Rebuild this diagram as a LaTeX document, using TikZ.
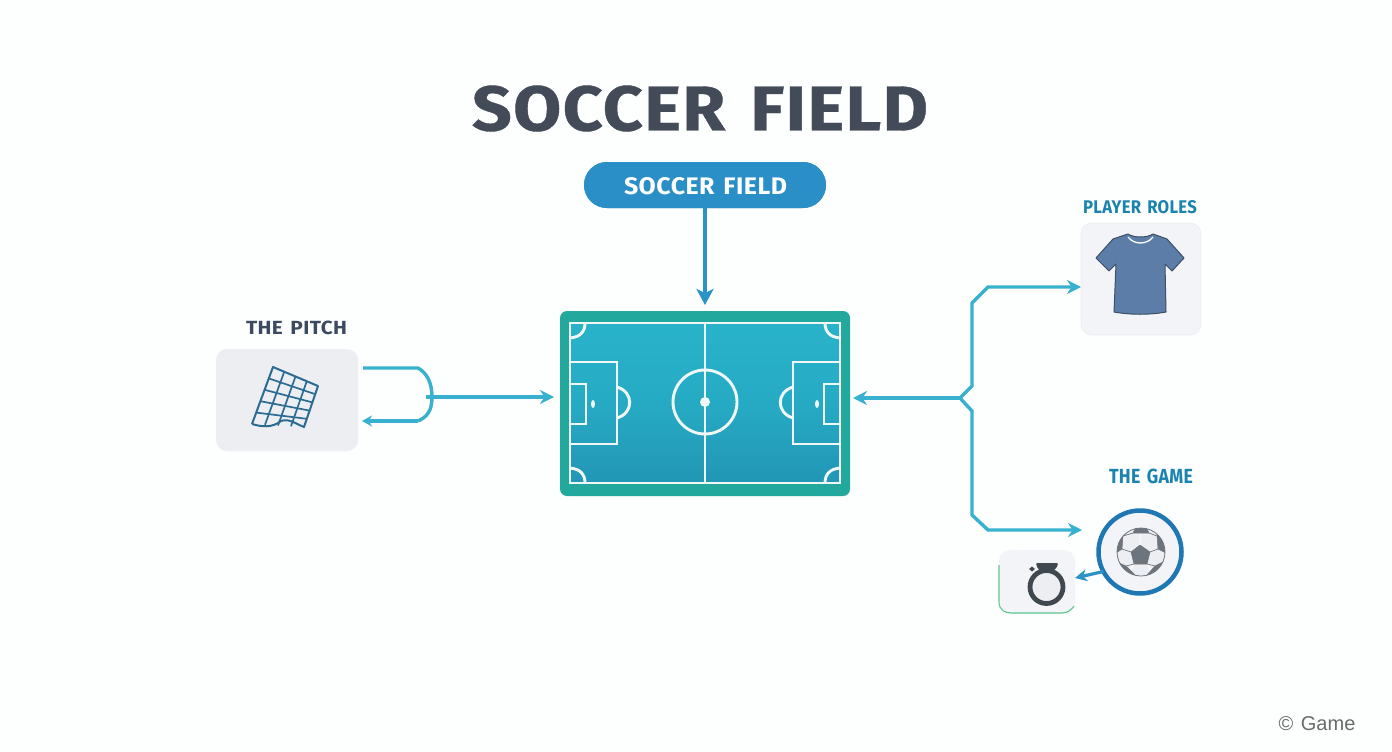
\documentclass[tikz,border=0pt]{standalone}
\usepackage{fontspec}
\setmainfont{Fira Sans}
\newfontfamily\labelfont{Fira Sans}[UprightFont=* Bold,LetterSpace=2,WordSpace=1.4]
\newfontfamily\titlefont{Fira Sans}[UprightFont=* Bold,LetterSpace=2,WordSpace=1.4,FakeBold=0.6]
\newfontfamily\creditfont{Liberation Sans}
\usetikzlibrary{arrows.meta,calc}
\definecolor{bgc}{HTML}{FDFEFE}
\definecolor{titlec}{HTML}{434B58}
\definecolor{pillc}{HTML}{2A8FC6}
\definecolor{linkc}{HTML}{38B1CF}
\definecolor{linkd}{HTML}{2A93C8}
\definecolor{cardc}{HTML}{ECEEF2}
\definecolor{cardl}{HTML}{F3F4F7}
\definecolor{fieldb}{HTML}{22A89C}
\definecolor{fieldt}{HTML}{28B3CA}
\definecolor{fieldm}{HTML}{2296B6}
\definecolor{linec}{HTML}{F1F7F5}
\definecolor{labb}{HTML}{1B84AE}
\definecolor{labd}{HTML}{3C4A60}
\definecolor{shirtc}{HTML}{5B7DA8}
\definecolor{shirtd}{HTML}{3D4F66}
\definecolor{gridc}{HTML}{2B6C94}
\definecolor{ringc}{HTML}{3F474F}
\definecolor{ballr}{HTML}{1F78B4}
\definecolor{patch}{HTML}{6D747C}
\definecolor{greenl}{HTML}{5CC98F}
\newcommand{\fitw}[3]{\resizebox{#1pt}{#2pt}{\labelfont #3}}
\tikzset{
  x=1pt,y=-1pt,
  lbl/.style={inner sep=0pt,outer sep=0pt,anchor=center},
  card/.style={rounded corners=11pt,fill=cardc,draw=none,inner sep=0pt,outer sep=0pt},
  link/.style={draw=linkc,line width=3.4pt,-{Stealth[length=14pt,width=14pt]}},
  linknt/.style={draw=linkc,line width=3.4pt},
  pline/.style={draw=linec,line width=2.9pt},
  gridl/.style={draw=gridc,line width=2pt,line join=round},
  patchf/.style={fill=patch,draw=patch,line width=.5pt,line join=round}
}
\begin{document}
\begin{tikzpicture}
\useasboundingbox (0,0) rectangle (1392,752);
\fill[bgc] (0,0) rectangle (1392,752);

\node[lbl,text=titlec] (title) at (700,108.5) {\resizebox{456pt}{45pt}{\titlefont SOCCER FIELD}};

\node[lbl,fill=pillc,rounded corners=23pt,minimum width=242pt,minimum height=46pt] (pill) at (705,185) {};

% field
\node[lbl,fill=fieldb,rounded corners=7pt,minimum width=290pt,minimum height=185pt] (field) at (705,403.5) {};
\fill[top color=fieldt,bottom color=fieldm,middle color=fieldt!70!fieldm] (570,323) rectangle (840,483);
\draw[pline] (570,323) rectangle (840,483);
\draw[pline] (705,323) -- (705,483);
\draw[pline] (705,402) circle[radius=32];
\fill[linec] (705,402) circle[radius=5];
\draw[pline] (570,362) -- (617,362) -- (617,444) -- (570,444);
\draw[pline] (570,384) -- (586,384) -- (586,424) -- (570,424);
\draw[pline] (840,362) -- (793,362) -- (793,444) -- (840,444);
\draw[pline] (840,384) -- (824,384) -- (824,424) -- (840,424);
\draw[pline] (617,387) .. controls (634,392) and (634,413) .. (617,418);
\draw[pline] (793,387) .. controls (776,392) and (776,413) .. (793,418);
\fill[linec] (593,404) ellipse[x radius=2,y radius=4];
\fill[linec] (817,404) ellipse[x radius=2,y radius=4];
\draw[pline] (570,338) .. controls (580,337) and (585,332) .. (585,323);
\draw[pline] (840,338) .. controls (830,337) and (825,332) .. (825,323);
\draw[pline] (570,468) .. controls (580,469) and (585,474) .. (585,483);
\draw[pline] (840,468) .. controls (830,469) and (825,474) .. (825,483);

% pitch card
\node[lbl,text=labd] (pitchlabel) at (296.5,328) {\fitw{101}{13.5}{THE PITCH}};
\node[card,minimum width=142pt,minimum height=102pt] (pitchbox) at (287,400) {};
\coordinate (ga) at (273,367);
\coordinate (gb) at (318,386);
\coordinate (gc) at (304,427);
\coordinate (gd) at (252,424);
\draw[gridl] (gd) -- (ga) -- (gb) -- (gc) .. controls (296,424) and (289,418) .. (281,421) .. controls (272,428) and (262,427) .. (gd);
\foreach \t in {.2,.4,.6,.8}
  \draw[gridl,line width=1.7pt] ($(ga)!\t!(gd)$) -- ($(gb)!\t!(gc)$);
\foreach \t in {.25,.5,.75}
  \draw[gridl,line width=1.7pt] ($(ga)!\t!(gb)$) -- ($(gd)!\t!(gc)$);

% left connectors
\coordinate (jl) at (432,397);
\coordinate (pt) at ([xshift=5pt,yshift=32pt]pitchbox.east);
\coordinate (pb) at ([xshift=4pt,yshift=-21pt]pitchbox.east);
\draw[linknt,line join=round] (pt) -- (418,368) .. controls (427,373) and (432,383) .. (jl) .. controls (432,411) and (427,417) .. (418,421);
\draw[draw=linkc,line width=3.4pt,-{Stealth[length=10pt,width=11pt]}] (418,421) -- (pb);
\draw[link,shorten >=6pt] (426,397) -- (jl -| field.west);

% roles
\node[lbl,text=labb] (roleslabel) at (1140,207) {\fitw{114}{13}{PLAYER ROLES}};
\node[card,fill=cardl,draw=cardc,line width=.8pt,minimum width=120pt,minimum height=112pt] (rolesbox) at (1141,279) {};
\filldraw[fill=shirtc,draw=shirtd,line width=1pt,line join=round]
 (1128,234) -- (1113,239) -- (1096,258) -- (1109,271) -- (1116,264) -- (1114,312)
 .. controls (1130,315) and (1150,315) .. (1166,312) -- (1165,264) -- (1172,271) -- (1184,258) -- (1167,239) -- (1153,234)
 .. controls (1147,238) and (1134,238) .. (1128,234) -- cycle;
\draw[white,line width=1.3pt] (1128,237) .. controls (1134,245) and (1147,245) .. (1153,237);

% game
\node[lbl,text=labb] (gamelabel) at (1151,476) {\fitw{84}{14.5}{THE GAME}};
\node[circle,fill=cardl,draw=ballr,line width=4.5pt,minimum size=83pt,inner sep=0pt,outer sep=0pt] (ball) at (1140,552) {};
\begin{scope}
\filldraw[fill=cardc,draw=patch,line width=.8pt] (1141,552) circle[radius=24];
\clip (1141,552) circle[radius=24];
\draw[white,line width=1pt]
 (1140,545)--(1140,533) (1150,552)--(1158,549)
 (1131,552)--(1123,549) (1134,564)--(1130,570) (1147,564)--(1151,570);
\draw[patch,line width=.7pt]
 (1133,533)--(1123,536) (1149,533)--(1157,536)
 (1122,549)--(1131,552) (1158,549)--(1150,552)
 (1134,564)--(1126,566) (1147,564)--(1155,566);
\fill[patchf] (1140,545) -- (1150,552) -- (1147,564) -- (1134,564) -- (1131,552) -- cycle;
\fill[patchf] (1133,533) -- (1136,527) -- (1146,527) -- (1149,533) -- cycle;
\fill[patchf] (1116,538) -- (1123,535) -- (1122,549) -- (1116,553) -- cycle;
\fill[patchf] (1157,535) -- (1165,538) -- (1166,553) -- (1158,549) -- cycle;
\fill[patchf] (1117,562) -- (1126,566) -- (1135,575) -- (1127,577) -- cycle;
\fill[patchf] (1147,575) -- (1155,566) -- (1163,562) -- (1155,577) -- cycle;
\end{scope}

% ring card
\node[card,fill=cardl,minimum width=76pt,minimum height=64pt] (ringbox) at (1037,582) {};
\draw[greenl,line width=1.1pt] (999,565) -- (999,602) .. controls (999,610) and (1005,613) .. (1011,613) -- (1062,613) .. controls (1068,613) and (1072,609) .. (1074,606);
\filldraw[fill=cardc,draw=ringc,line width=4.8pt] (1046.5,587) circle[radius=16.5];
\fill[ringc,rounded corners=1pt] (1036,563) -- (1058,563) -- (1057,567) -- (1053,571) -- (1040,571) -- (1037,567) -- cycle;
\fill[ringc] (1032,566.5) -- (1035,569) -- (1032,571.5) -- (1029,569) -- cycle;

% right connectors
\coordinate (jr) at (960,398);
\draw[link,shorten >=3pt] (jr) -- (jr -| field.east);
\draw[link,line join=miter] (jr) -- (972,386) -- (972,303) -- (988,287) -- (rolesbox.west |- 0,287);
\draw[link,line join=miter] (jr) -- (972,411) -- (972,515) -- (988,530) -- (1082,530);
\draw[draw=linkd,line width=3.2pt,-{Stealth[length=12pt,width=12pt]}] (ball.208) -- (ringbox.east |- 0,578);

% top arrow
\draw[draw=linkd,line width=3.2pt,-{Stealth[length=16pt,width=17pt,inset=4pt]},shorten >=6pt] (pill) -- (field);
\node[lbl,fill=pillc,rounded corners=23pt,minimum width=242pt,minimum height=46pt] (pillcap) at (pill) {};
\node[lbl,text=white] (pilltext) at (705.5,186) {\fitw{163}{17}{SOCCER FIELD}};

\node[lbl,text=black!58,font=\creditfont\fontsize{20}{22}\selectfont] (credit) at (1317,724) {©\hspace{2pt} Game};
\end{tikzpicture}
\end{document}
